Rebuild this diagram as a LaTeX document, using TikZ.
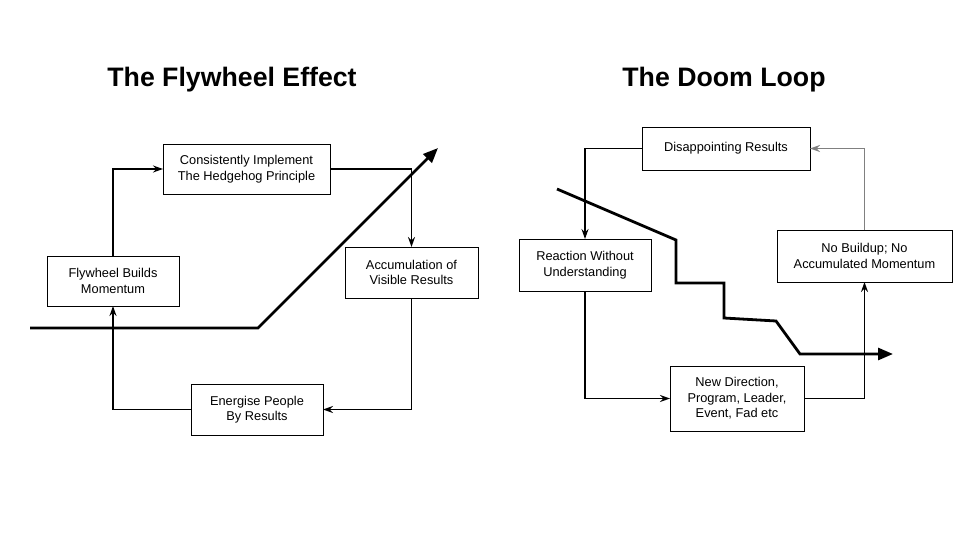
\documentclass[tikz,border=0pt]{standalone}
\usepackage{fontspec}
\setmainfont{Liberation Sans}
\usetikzlibrary{arrows, arrows.meta, positioning, calc}
\begin{document}
\begin{tikzpicture}[x=1pt,y=-1pt,every node/.style={outer sep=0pt}]
\tikzstyle{box}=[draw,line width=0.9pt,fill=white,align=center,font=\fontsize{12.8}{15.5}\selectfont,inner sep=0pt]
\tikzstyle{title}=[font=\fontsize{26.7}{30}\selectfont\bfseries]
\tikzstyle{flow}=[-{Stealth[length=10pt,width=7pt]},line width=1.6pt]
\tikzstyle{trend}=[-{Triangle[length=15pt,width=12pt]},line width=2.8pt]
\useasboundingbox (0,0) rectangle (960,540);

% flywheel
\node (T1) [title] at (232,80) {The Flywheel Effect};
\draw [trend] (30,328) -- (258,328) -- (438,148);
\node (A) [box,minimum width=167pt,minimum height=50pt] at (246.5,169) {Consistently Implement\\The Hedgehog Principle};
\node (B) [box,minimum width=133pt,minimum height=51pt] at (411.5,272.5) {Accumulation of\\Visible Results};
\node (C) [box,minimum width=132pt,minimum height=51pt] at (257,409.5) {Energise People\\By Results};
\node (D) [box,minimum width=132pt,minimum height=50pt] at (113,281) {Flywheel Builds\\Momentum};
\draw [flow] (A.east) -| (B.north);
\draw [flow] (B.south) |- (C.east);
\draw [flow] (C.west) -| (D.south);
\draw [flow] (D.north) |- (A.west);

% doom loop
\node (T2) [title] at (724,80) {The Doom Loop};
\node (E) [box,minimum width=168pt,minimum height=43pt] at (726,148.5) {Disappointing Results};
\node (F) [box,minimum width=132pt,minimum height=52pt] at (585,265) {Reaction Without\\Understanding};
\node (G) [box,minimum width=134pt,minimum height=65pt] at (737,398.5) {New Direction,\\Program, Leader,\\Event, Fad etc};
\node (H) [box,minimum width=175pt,minimum height=52pt] at (864.5,256) {No Buildup; No\\Accumulated Momentum};
\draw [flow] (E.west) -| (F.north);
\draw [flow] (F.south) |- (G.west);
\draw [flow] (G.east) -| (H.south);
\draw [flow,gray] (H.north) |- (E.east);
\draw [trend] (557,189) -- (676,240) -- (676,283) -- (724,283) -- (724,318) -- (776,321) -- (800,354) -- (893,354);
\end{tikzpicture}
\end{document}
